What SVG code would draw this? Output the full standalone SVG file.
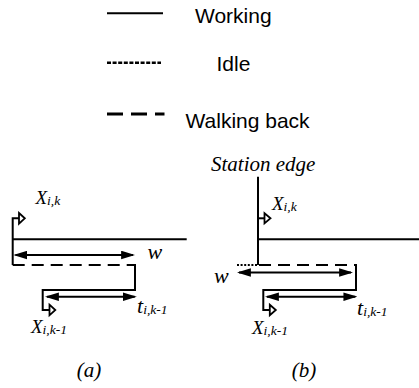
<svg xmlns="http://www.w3.org/2000/svg" width="419" height="388" viewBox="0 0 419 388">
<style>
.ln{stroke:#000;stroke-width:2;fill:none}
.dash{stroke:#000;stroke-width:2;fill:none;stroke-dasharray:12 7}
.dot{stroke:#000;stroke-width:2;fill:none;stroke-dasharray:2 1.6}
.flag{stroke:#000;stroke-width:1.8;fill:#fff;stroke-linejoin:miter}
.arr{stroke:#000;stroke-width:2;fill:none;marker-start:url(#ah);marker-end:url(#ah)}
.leg{font-family:"Liberation Sans",Arial,sans-serif;font-size:21px;fill:#000}
.m{font-family:"Liberation Serif","Times New Roman",serif;font-style:italic;fill:#000}
.mx{font-size:19px}
.mw{font-size:22px}
.cap{font-size:21px}
.sub{font-size:13.5px}
</style>
<defs>
<marker id="ah" markerUnits="userSpaceOnUse" markerWidth="14" markerHeight="9" viewBox="0 0 13 8" refX="11" refY="4" orient="auto-start-reverse">
<path d="M0,0 L13,4 L0,8 Z" fill="#000"/>
</marker>
</defs>

<g id="legend">
<line x1="107" y1="13.3" x2="163" y2="13.3" class="ln"/>
<text x="195" y="22.5" class="leg">Working</text>
<line x1="107" y1="62.7" x2="161" y2="62.7" stroke="#000" stroke-width="2.6" stroke-dasharray="4 1.6"/>
<text x="216.5" y="71" class="leg">Idle</text>
<line x1="107" y1="114" x2="164.5" y2="114" stroke="#000" stroke-width="3" stroke-dasharray="16 8"/>
<text x="185.5" y="128.3" class="leg">Walking back</text>
</g>

<g id="diagram-a">
<line x1="12.7" y1="239.3" x2="186.7" y2="239.3" class="ln"/>
<path d="M19,218.3 H12.7 V265" class="ln"/>
<path d="M19,213 L24.8,218.3 L19,223.6 Z" class="flag"/>
<line x1="15.5" y1="255" x2="133" y2="255" class="arr"/>
<line x1="12.7" y1="265" x2="135" y2="265" class="dash"/>
<path d="M135,264 V290 H42.7 V310 H49" class="ln"/>
<path d="M49.5,304.7 L55.3,310 L49.5,315.3 Z" class="flag"/>
<line x1="47" y1="296.7" x2="134.7" y2="296.7" class="arr"/>
<text x="35.5" y="204" class="m mx">X<tspan class="sub" dy="1">i,k</tspan></text>
<text x="147.5" y="259" class="m mw">w</text>
<text x="137" y="313" class="m mw">t<tspan class="sub" dy="1">i,k-1</tspan></text>
<text x="31" y="333" class="m mx">X<tspan class="sub" dy="1">i,k-1</tspan></text>
<text x="89" y="377" class="m cap" text-anchor="middle">(a)</text>
</g>

<g id="diagram-b">
<text x="211" y="171" class="m cap">Station edge</text>
<line x1="258" y1="176.7" x2="258" y2="265" class="ln"/>
<line x1="258" y1="218.3" x2="264.5" y2="218.3" class="ln"/>
<path d="M264.5,213.2 L270.5,218.3 L264.5,223.4 Z" class="flag"/>
<line x1="258" y1="239.3" x2="419" y2="239.3" class="ln"/>
<line x1="237" y1="265" x2="257" y2="265" class="dot"/>
<line x1="259" y1="265" x2="356" y2="265" class="dash"/>
<path d="M356,264 V290 H263.3 V310 H269.5" class="ln"/>
<path d="M269.8,304.8 L275.8,310 L269.8,315.2 Z" class="flag"/>
<line x1="239" y1="272.5" x2="351" y2="272.5" class="arr"/>
<line x1="267" y1="296.7" x2="355.3" y2="296.7" class="arr"/>
<text x="272" y="209.5" class="m mx">X<tspan class="sub" dy="1">i,k</tspan></text>
<text x="214" y="283" class="m mw">w</text>
<text x="357" y="315" class="m mw">t<tspan class="sub" dy="1">i,k-1</tspan></text>
<text x="252" y="334" class="m mx">X<tspan class="sub" dy="1">i,k-1</tspan></text>
<text x="304" y="377" class="m cap" text-anchor="middle">(b)</text>
</g>
</svg>
